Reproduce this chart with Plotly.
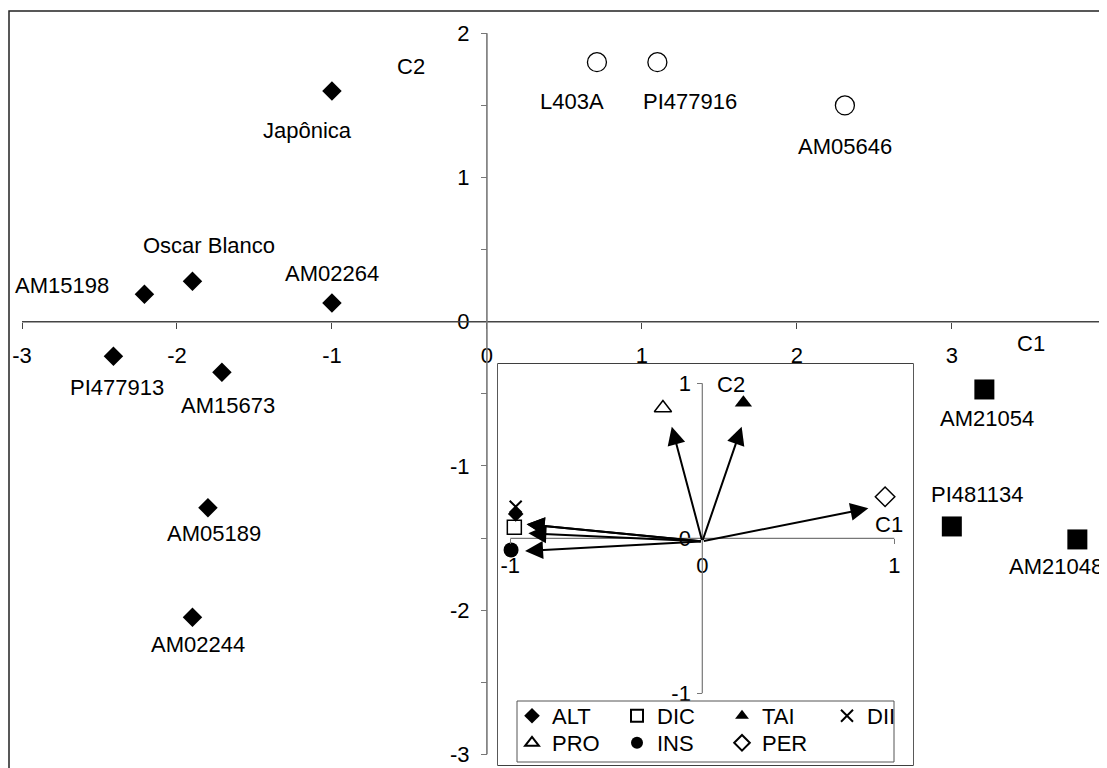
import plotly.graph_objects as go

# The page body has an 8px margin, so the figure starts at (8, 8) in the window.
OX, OY = 8, 8
W, H = 1107 - OX, 768 - OY
FONT = "Liberation Sans, Arial, sans-serif"
FS = 22

# ---------------- data: genotype scores (C1, C2) ----------------
alt_names = ["Japônica", "Oscar Blanco", "AM15198", "AM02264",
             "PI477913", "AM15673", "AM05189", "AM02244"]
alt_c1 = [-1.0, -1.9, -2.21, -1.0, -2.41, -1.71, -1.8, -1.9]
alt_c2 = [1.6, 0.28, 0.19, 0.13, -0.24, -0.35, -1.29, -2.05]

circ_names = ["L403A", "PI477916", "AM05646"]
circ_c1 = [0.71, 1.1, 2.31]
circ_c2 = [1.8, 1.8, 1.5]

sq_names = ["AM21054", "PI481134", "AM21048"]
sq_c1 = [3.21, 3.0, 3.81]
sq_c2 = [-0.47, -1.42, -1.51]

# ---------------- data: variable vectors (inset) ----------------
var_names = ["ALT", "DIC", "TAI", "DII", "PRO", "INS", "PER"]
vec_c1 = [-0.915, -0.906, 0.205, -0.915, -0.159, -0.923, 0.865]
vec_c2 = [0.09, 0.032, 0.72, 0.09, 0.72, -0.082, 0.194]
mark_c1 = [-0.972, -0.979, 0.214, -0.972, -0.205, -0.996, 0.952]
mark_c2 = [0.157, 0.071, 0.875, 0.204, 0.841, -0.075, 0.268]
origin_c1 = [0.0] * 7
origin_c2 = [-0.02] * 7

# tick labels
main_x_ticks = [-3, -2, -1, 0, 1, 2, 3, 4]
main_y_ticks = [-3, -2.5, -2, -1.5, -1, -0.5, 0, 0.5, 1, 1.5, 2]
inset_ticks = [-1, 0, 1]


def lbl(v):
    return ("%g" % v) if float(v).is_integer() else ""


# ---------------- layout helpers (window pixel -> paper) ----------------
def px(x):
    return (x - OX) / W


def py(y):
    return 1 - (y - OY) / H


# main axes: pixel scale (x: 0 at 487, 155 px/unit;
# y: 0 at 321.7, 144.2 px/unit)
xr = [(OX - 487) / 155.0, (1107.2 - 487) / 155.0]
yr = [(321.7 - 768) / 144.2, (321.7 - OY) / 144.2]
# inset axes (x: 0 at 702.3, 192 px/unit; y: 0 at 538.3, 155 px/unit)
x2dom = [px(498), px(913)]
y2dom = [py(765), py(364)]
x2r = [(498 - 702.3) / 192.0, (913 - 702.3) / 192.0]
y2r = [(538.3 - 765) / 155.0, (538.3 - 364) / 155.0]


def frac(val, rng, dom):
    return dom[0] + (val - rng[0]) / (rng[1] - rng[0]) * (dom[1] - dom[0])


fig = go.Figure()

# ---------------- main points ----------------
fig.add_trace(go.Scatter(x=alt_c1, y=alt_c2, mode="markers", showlegend=False,
                         marker=dict(symbol="diamond", size=15, color="black"),
                         xaxis="x", yaxis="y"))
fig.add_trace(go.Scatter(x=circ_c1, y=circ_c2, mode="markers", showlegend=False,
                         marker=dict(symbol="circle-open", size=19, color="black",
                                     line=dict(width=1.3, color="black")),
                         xaxis="x", yaxis="y"))
fig.add_trace(go.Scatter(x=sq_c1, y=sq_c2, mode="markers", showlegend=False,
                         marker=dict(symbol="square", size=20, color="black"),
                         xaxis="x", yaxis="y"))

# label offsets (pixels: dx right, dy down)
offsets = {
    "Japônica": (-24, 40), "Oscar Blanco": (17, -36), "AM15198": (-82, -9),
    "AM02264": (0, -29), "PI477913": (4, 31), "AM15673": (6, 33),
    "AM05189": (6, 26), "AM02244": (6, 27),
    "L403A": (-25, 39), "PI477916": (33, 39), "AM05646": (0, 41),
    "AM21054": (3, 29), "PI481134": (26, -32), "AM21048": (-21, 27),
}

txtfont = dict(family=FONT, size=FS, color="black")
annotations = []
for names, xs, ys in [(alt_names, alt_c1, alt_c2), (circ_names, circ_c1, circ_c2),
                      (sq_names, sq_c1, sq_c2)]:
    for n, xv, yv in zip(names, xs, ys):
        dx, dy = offsets[n]
        annotations.append(dict(x=xv, y=yv, xref="x", yref="y", text=n, showarrow=False,
                                xanchor="center", yanchor="middle",
                                xshift=dx, yshift=-dy, font=txtfont))

# axis titles
for t, X, Y in [("C1", 1031, 343), ("C2", 411, 66), ("C1", 889, 524), ("C2", 731, 385)]:
    annotations.append(dict(x=px(X), y=py(Y), xref="paper", yref="paper", text=t,
                            xanchor="center", yanchor="middle",
                            showarrow=False, font=txtfont))

# ---------------- inset vectors ----------------
for i in range(len(var_names)):
    annotations.append(dict(x=vec_c1[i], y=vec_c2[i], ax=origin_c1[i], ay=origin_c2[i],
                            xref="x2", yref="y2", axref="x2", ayref="y2", text="",
                            showarrow=True, arrowhead=2, arrowsize=1.8, arrowwidth=2,
                            arrowcolor="black", standoff=0))

sym = {
    "ALT": dict(symbol="diamond", size=12, color="black"),
    "DIC": dict(symbol="square-open", size=14, color="black", line=dict(width=1.5, color="black")),
    "TAI": dict(symbol="triangle-up", size=15, color="black"),
    "DII": dict(symbol="x-thin-open", size=12, color="black", line=dict(width=2, color="black")),
    "PRO": dict(symbol="triangle-up-open", size=15, color="black", line=dict(width=1.5, color="black")),
    "INS": dict(symbol="circle", size=15, color="black"),
    "PER": dict(symbol="diamond-open", size=15, color="black", line=dict(width=1.5, color="black")),
}
row1 = ["ALT", "DIC", "TAI", "DII"]
draw_order = ["ALT", "DII", "DIC", "INS", "PRO", "TAI", "PER"]
legend_order = ["ALT", "DIC", "TAI", "DII", "PRO", "INS", "PER"]
for n in draw_order:
    i = var_names.index(n)
    fig.add_trace(go.Scatter(x=[mark_c1[i]], y=[mark_c2[i]], mode="markers", name=n,
                             marker=sym[n], xaxis="x2", yaxis="y2",
                             legend="legend" if n in row1 else "legend2",
                             legendrank=legend_order.index(n)))

# ---------------- shapes: frames and axis lines ----------------
shapes = [
    dict(type="rect", xref="paper", yref="paper", x0=px(9), x1=px(1112), y0=py(773), y1=py(11),
         line=dict(color="#222", width=1.5), layer="below"),
    dict(type="rect", xref="paper", yref="paper", x0=x2dom[0], x1=x2dom[1], y0=y2dom[0], y1=y2dom[1],
         line=dict(color="black", width=1.3), fillcolor="white", layer="below"),
    # main axes
    dict(type="line", xref="x", yref="y", x0=-3, x1=4, y0=0, y1=0, line=dict(color="#444", width=1.4)),
    dict(type="line", xref="x", yref="y", x0=0, x1=0, y0=-3, y1=2, line=dict(color="#777", width=1.6)),
    # inset axes
    dict(type="line", xref="x2", yref="y2", x0=-1, x1=1, y0=0, y1=0, line=dict(color="#777", width=1.2)),
    dict(type="line", xref="x2", yref="y2", x0=0, x1=0, y0=-1, y1=1, line=dict(color="#777", width=1.2)),
    # legend box
    dict(type="rect", xref="paper", yref="paper", x0=px(517), x1=px(894), y0=py(762), y1=py(701),
         line=dict(color="#555", width=1), fillcolor="white", layer="above"),
]

tickfont = dict(family=FONT, size=FS, color="black")
xpos_main = (0 - yr[0]) / (yr[1] - yr[0])
ypos_main = (0 - xr[0]) / (xr[1] - xr[0])
xpos_in = frac(0, y2r, y2dom)
ypos_in = frac(0, x2r, x2dom)

fig.update_layout(
    width=W, height=H, margin=dict(l=0, r=0, t=0, b=0),
    paper_bgcolor="white", plot_bgcolor="white",
    font=dict(family=FONT, size=FS, color="black"),
    xaxis=dict(range=xr, domain=[0, 1], anchor="free", position=xpos_main,
               showgrid=False, zeroline=False, showline=False,
               tickmode="array", tickvals=main_x_ticks, ticktext=[lbl(v) for v in main_x_ticks],
               ticks="outside", ticklen=6, ticklabelstandoff=8,
               tickcolor="#444", tickwidth=1.2, tickfont=tickfont),
    yaxis=dict(range=yr, domain=[0, 1], anchor="free", position=ypos_main,
               showgrid=False, zeroline=False, showline=False,
               tickmode="array", tickvals=main_y_ticks, ticktext=[lbl(v) for v in main_y_ticks],
               ticks="outside", ticklen=6, ticklabelstandoff=7,
               tickcolor="#777", tickwidth=1.2, tickfont=tickfont),
    xaxis2=dict(range=x2r, domain=x2dom, anchor="free", position=xpos_in,
                showgrid=False, zeroline=False, showline=False,
                tickmode="array", tickvals=inset_ticks, ticktext=[lbl(v) for v in inset_ticks],
                ticks="outside", ticklen=5, ticklabelstandoff=2,
                tickcolor="#777", tickfont=tickfont),
    yaxis2=dict(range=y2r, domain=y2dom, anchor="free", position=ypos_in,
                showgrid=False, zeroline=False, showline=False,
                tickmode="array", tickvals=inset_ticks, ticktext=[lbl(v) for v in inset_ticks],
                ticks="outside", ticklen=5, ticklabelstandoff=2,
                tickcolor="#777", tickfont=tickfont),
    showlegend=True,
    legend=dict(orientation="h", x=px(512), y=py(716), xanchor="left", yanchor="middle",
                bgcolor="rgba(0,0,0,0)", borderwidth=0, entrywidth=60, entrywidthmode="pixels",
                itemsizing="constant", font=txtfont, traceorder="normal"),
    legend2=dict(orientation="h", x=px(512), y=py(743), xanchor="left", yanchor="middle",
                 bgcolor="rgba(0,0,0,0)", borderwidth=0, entrywidth=60, entrywidthmode="pixels",
                 itemsizing="constant", font=txtfont, traceorder="normal"),
    annotations=annotations,
    shapes=shapes,
)

fig.write_html("out.html", config={"displayModeBar": False})
